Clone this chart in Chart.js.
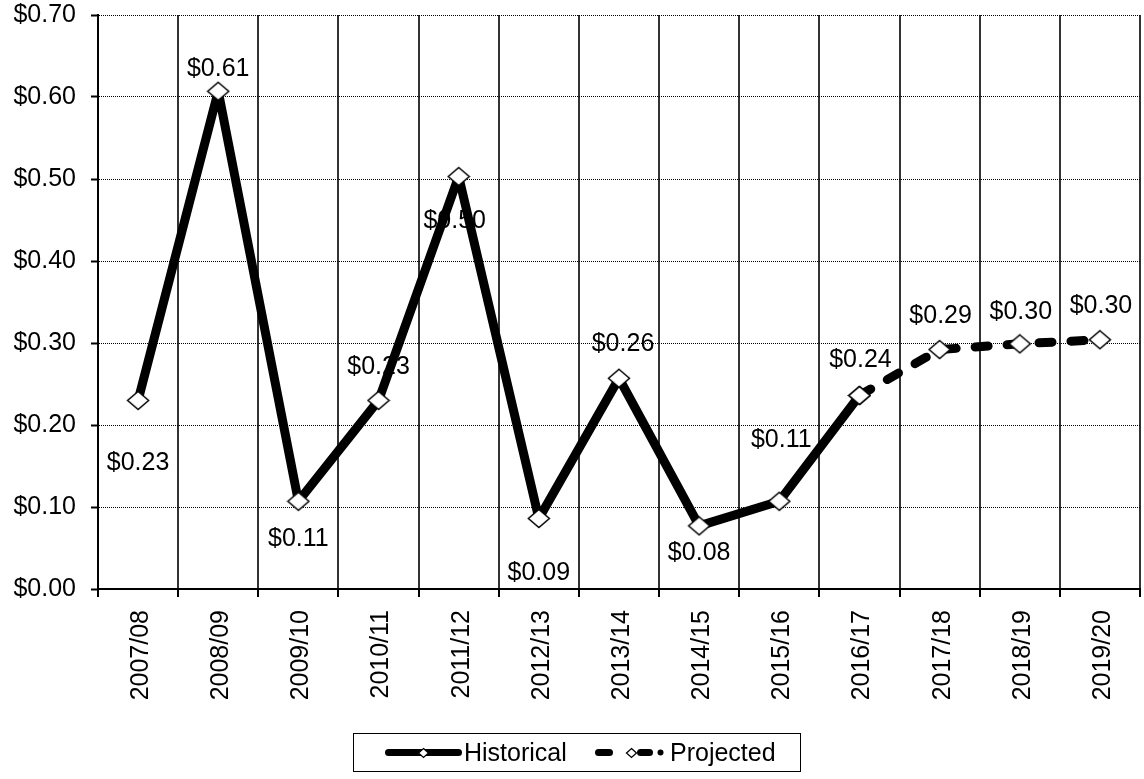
<!DOCTYPE html>
<html>
<head>
<meta charset="utf-8">
<title>Per-unit values, historical and projected</title>
<script src="https://cdn.jsdelivr.net/npm/chart.js@4.4.1/dist/chart.umd.min.js"></script>
<style>
  html, body { margin: 0; padding: 0; background: #fff; }
  #wrap { position: relative; width: 1144px; height: 779px; }
  #chart { position: absolute; left: 0; top: 0; }
  #legend {
    position: absolute; left: 353px; top: 733px; width: 448px; height: 39px;
    border: 1px solid #000; box-sizing: border-box; background: #fff;
    font: 25px "Liberation Sans", Arial, sans-serif; color: #000;
  }
  #legend canvas { position: absolute; top: 0; }
  #legend span { position: absolute; top: 0; line-height: 37px; white-space: nowrap; }
</style>
</head>
<body>
<div id="wrap">
  <canvas id="chart" width="1144" height="779"></canvas>
  <div id="legend">
    <canvas id="sampleHist" width="84" height="37" style="left:28px"></canvas>
    <span style="left:110px">Historical</span>
    <canvas id="sampleProj" width="80" height="37" style="left:237px"></canvas>
    <span style="left:316px">Projected</span>
  </div>
</div>
<script>
// Fiscal years on the category axis
const seasons = ['2007/08', '2008/09', '2009/10', '2010/11', '2011/12', '2012/13', '2013/14',
                 '2014/15', '2015/16', '2016/17', '2017/18', '2018/19', '2019/20'];

// Actual values through 2016/17
const historical = [0.23, 0.607, 0.107, 0.23, 0.503, 0.086, 0.257, 0.077, 0.107, 0.236, null, null, null];

// Forecast, continuing from the last actual year
const projected = [null, null, null, null, null, null, null, null, null, 0.236, 0.292, 0.299, 0.304];

// Value axis range and step
const yMin = 0;
const yMax = 0.7;
const yStep = 0.1;

const FONT = '"Liberation Sans", Arial, sans-serif';
const money = v => '$' + v.toFixed(2);

// White diamond marker with a black outline
function diamond(halfW, halfH, lw) {
  const c = document.createElement('canvas');
  c.width = Math.ceil(halfW * 2 + lw * 2);
  c.height = Math.ceil(halfH * 2 + lw * 2);
  const g = c.getContext('2d');
  const cx = c.width / 2, cy = c.height / 2;
  g.beginPath();
  g.moveTo(cx, cy - halfH);
  g.lineTo(cx + halfW, cy);
  g.lineTo(cx, cy + halfH);
  g.lineTo(cx - halfW, cy);
  g.closePath();
  g.fillStyle = '#fff';
  g.fill();
  g.lineWidth = lw;
  g.strokeStyle = '#000';
  g.stroke();
  return c;
}
const marker = diamond(10.5, 9, 1.5);

// Value labels drawn beneath the lines, each nudged off its point
const valueLabels = {
  id: 'valueLabels',
  beforeDatasetsDraw(chart, args, opts) {
    const ctx = chart.ctx;
    const xs = chart.scales.x, ys = chart.scales.y;
    ctx.save();
    ctx.font = opts.font;
    ctx.fillStyle = '#000';
    ctx.textAlign = 'center';
    ctx.textBaseline = 'middle';
    seasons.forEach((s, i) => {
      const v = historical[i] != null ? historical[i] : projected[i];
      if (v == null) return;
      const [dx, dy] = opts.shift[i];
      ctx.fillText(money(v), xs.getPixelForValue(i) + dx, ys.getPixelForValue(v) + dy);
    });
    ctx.restore();
  }
};

const lineStyle = {
  borderColor: '#000',
  borderWidth: 9,
  borderJoinStyle: 'round',
  borderCapStyle: 'round',
  tension: 0,
  pointStyle: marker,
  pointRadius: 10,
  spanGaps: false
};

new Chart(document.getElementById('chart'), {
  type: 'line',
  data: {
    labels: seasons,
    datasets: [
      Object.assign({ label: 'Historical', data: historical, order: 2 }, lineStyle),
      Object.assign({ label: 'Projected', data: projected, order: 1, borderDash: [13, 19] }, lineStyle)
    ]
  },
  plugins: [valueLabels],
  options: {
    responsive: false,
    animation: false,
    events: [],
    layout: { autoPadding: false, padding: { top: 15, right: 4, left: 0, bottom: 0 } },
    plugins: {
      legend: { display: false },
      tooltip: { enabled: false },
      valueLabels: {
        font: '25px ' + FONT,
        shift: [[0, 63], [0, -22], [0, 38], [0, -33], [-4, 45], [0, 55], [4, -34],
                [0, 27], [2, -61], [1, -35], [1, -33], [1, -32], [1, -34]]
      }
    },
    scales: {
      x: {
        offset: true,
        grid: {
          offset: true,
          color: '#333',
          lineWidth: 2,
          tickLength: 8,
          tickColor: '#000',
          tickWidth: 2
        },
        border: { color: '#000', width: 2 },
        ticks: {
          autoSkip: false,
          maxRotation: 90,
          minRotation: 90,
          padding: 13,
          labelOffset: 3,
          color: '#000',
          font: { family: FONT, size: 25 }
        },
        afterFit(scale) {
          scale.height = 190;
          scale.paddingLeft = 0;
          scale.paddingRight = 0;
        }
      },
      y: {
        min: yMin,
        max: yMax,
        grid: {
          color: '#000',
          lineWidth: 1,
          tickLength: 7,
          tickColor: '#000',
          tickWidth: 2,
          tickBorderDash: []
        },
        border: { color: '#000', width: 2, dash: [1, 1] },
        ticks: {
          stepSize: yStep,
          padding: 15,
          color: '#000',
          font: { family: FONT, size: 25 },
          callback: v => money(v)
        },
        afterFit(scale) {
          scale.width = 98;
          scale.paddingTop = 0;
          scale.paddingBottom = 0;
        }
      }
    }
  }
});

// Legend swatches: a thick line sample with a small diamond on it
function stroke(g, x1, x2, y) {
  g.beginPath();
  g.moveTo(x1, y);
  g.lineTo(x2, y);
  g.stroke();
}
function drawSample(id, dashed) {
  const c = document.getElementById(id);
  const g = c.getContext('2d');
  const y = 18.5;
  g.lineWidth = 7;
  g.lineCap = 'round';
  g.strokeStyle = '#000';
  g.fillStyle = '#000';
  let cx;
  if (dashed) {
    stroke(g, 7.5, 18.5, y);
    stroke(g, 49.5, 58.5, y);
    g.beginPath();
    g.arc(69.5, y, 3, 0, Math.PI * 2);
    g.fill();
    cx = 40;
  } else {
    stroke(g, 6.5, 76.5, y);
    cx = 41;
  }
  const m = diamond(5, 4.5, 1.3);
  g.drawImage(m, Math.round(cx - m.width / 2), Math.round(y - m.height / 2));
}
drawSample('sampleHist', false);
drawSample('sampleProj', true);
</script>
</body>
</html>
